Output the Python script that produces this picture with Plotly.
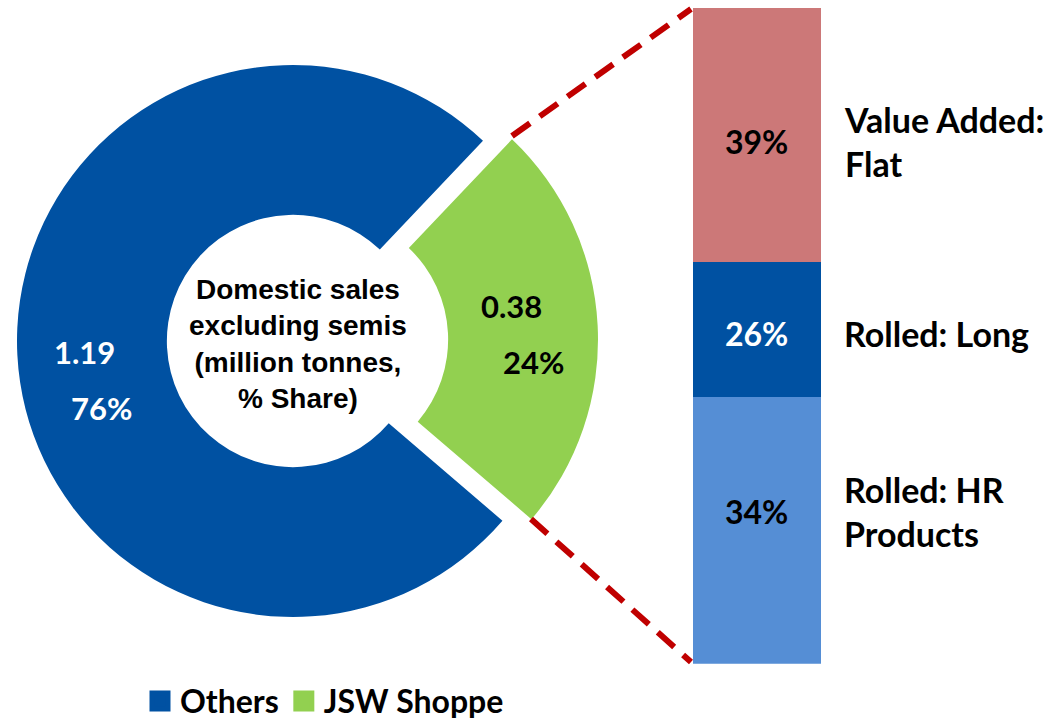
import plotly.graph_objects as go

# domestic sales excluding semis, million tonnes
donut_labels = ['JSW Shoppe', 'Others']
donut_values = [0.38, 1.19]

# JSW Shoppe product mix, bottom to top
mix_labels = ['Rolled: HR<br>Products', 'Rolled: Long', 'Value Added:<br>Flat']
mix_share = ['34%', '26%', '39%']
# segment heights as drawn in the source slide (not to scale with the labels)
mix_drawn = [40.7, 20.6, 38.7]

W, H = 1061, 720
BLUE = '#0051A2'
GREEN = '#92D050'
CLEAR = 'rgba(0,0,0,0)'
mix_colors = ['#558ED5', BLUE, '#CC7878']
mix_text_colors = ['black', 'white', 'black']

ARIAL = 'Liberation Sans'
CALIBRI = 'Lato'


def px_domain(cx, cy, r):
    return dict(x=[(cx - r) / W, (cx + r) / W],
                y=[1 - (cy + r) / H, 1 - (cy - r) / H])


def px(x, y):
    return x / W, 1 - y / H


def pie(colors, cx, cy):
    return go.Pie(
        labels=donut_labels,
        values=donut_values,
        hole=0.457,
        sort=False,
        direction='clockwise',
        rotation=43.5,
        marker=dict(colors=colors, line=dict(width=0)),
        textinfo='none',
        hoverinfo='skip',
        showlegend=False,
        domain=px_domain(cx, cy, 276),
    )


fig = go.Figure()

# "Others" ring and the pulled-out "JSW Shoppe" slice
fig.add_trace(pie([CLEAR, BLUE], 293, 341))
fig.add_trace(pie([GREEN, CLEAR], 322, 339.5))

for i, h in enumerate(mix_drawn):
    fig.add_trace(go.Bar(
        x=[0], y=[h], width=1,
        marker=dict(color=mix_colors[i], line=dict(width=0)),
        showlegend=False, hoverinfo='skip',
    ))

# legend entries
for name, color in [('Others', BLUE), ('JSW Shoppe', GREEN)]:
    fig.add_trace(go.Scatter(x=[None], y=[None], mode='markers', name=name,
                             marker=dict(symbol='square', size=16, color=color,
                                         line=dict(color=color, width=5))))

total = sum(donut_values)
annotations = []


def note(text, x, y, size, color='black', family=CALIBRI, **kw):
    d = dict(text=text, x=x, y=y, showarrow=False, xanchor='center', yanchor='middle',
             font=dict(family=family, size=size, color=color, weight='bold'))
    d.update(kw)
    annotations.append(d)


# slice labels
x, y = px(84, 352)
note(f'{donut_values[1]:.2f}', x, y, 31, 'white', xref='paper', yref='paper')
x, y = px(101, 408)
note(f'{donut_values[1] / total:.0%}', x, y, 31, 'white', xref='paper', yref='paper')
x, y = px(511, 306)
note(f'{donut_values[0]:.2f}', x, y, 31, xref='paper', yref='paper')
x, y = px(533, 362)
note(f'{donut_values[0] / total:.0%}', x, y, 31, xref='paper', yref='paper')

# centre caption
x, y = px(298, 344)
note('Domestic sales<br>excluding semis<br>(million tonnes,<br>% Share)', x, y, 28,
     family=ARIAL, xref='paper', yref='paper')

# bar segment labels
nudge = [19, -4, -7]
base = 0
for i, h in enumerate(mix_drawn):
    mid = base + h / 2
    note(mix_share[i], 0, mid, 32, mix_text_colors[i], xref='x', yref='y', yshift=nudge[i])
    note(mix_labels[i], 842 / W, mid, 34, xref='paper', yref='y', yshift=nudge[i],
         xanchor='left', align='left')
    base += h

# dashed connectors
shapes = []
for (x0, y0), (x1, y1) in [((512, 136), (691, 9)), ((531, 519), (691, 662))]:
    a, b = px(x0, y0)
    c, d = px(x1, y1)
    shapes.append(dict(type='line', xref='paper', yref='paper', x0=a, y0=b, x1=c, y1=d,
                       line=dict(color='#C00000', width=6, dash='22px,12px')))

fig.update_layout(
    width=W, height=H,
    margin=dict(l=0, r=0, t=0, b=0, autoexpand=False),
    paper_bgcolor='white', plot_bgcolor='white',
    barmode='stack',
    xaxis=dict(domain=[692.7 / W, 821 / W], range=[-0.5, 0.5], visible=False),
    yaxis=dict(domain=[1 - 663.7 / H, 1 - 8 / H], range=[0, sum(mix_drawn)], visible=False),
    legend=dict(orientation='h', traceorder='normal', x=140 / W, y=-0.012,
                xanchor='left', yanchor='bottom',
                font=dict(family=CALIBRI, size=32, color='black', weight='bold'),
                itemwidth=30, tracegroupgap=0),
    annotations=annotations,
    shapes=shapes,
)

fig.write_html('out.html', config={'displayModeBar': False},
               post_script="document.body.style.margin = '0px';")
